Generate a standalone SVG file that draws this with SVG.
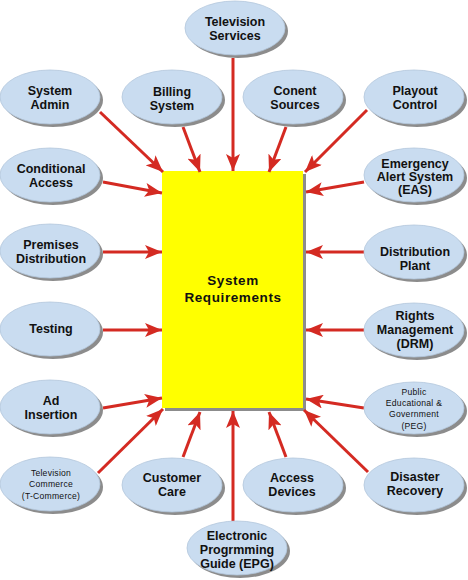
<svg xmlns="http://www.w3.org/2000/svg" width="468" height="580" viewBox="0 0 468 580">
<style>
.sh{fill:#8c8c8c}
.el{fill:#c9dcf0;stroke:#b3c7dc;stroke-width:0.8}
.t{font-family:"Liberation Sans",Arial,sans-serif;font-weight:bold;font-size:12.5px;fill:#111;text-anchor:middle}
.big{font-size:13.5px;letter-spacing:0.6px}
.s{font-family:"Liberation Sans",Arial,sans-serif;font-size:8.6px;fill:#111;text-anchor:middle;letter-spacing:0.25px}
.c line{stroke:#d42a22;stroke-width:3;marker-end:url(#ah)}
</style>
<defs>
<marker id="ah" markerUnits="userSpaceOnUse" markerWidth="18" markerHeight="14" refX="17" refY="7" orient="auto">
<path d="M0,0 L17,7 L0,14 L4,7 z" fill="#d42a22"/>
</marker>
</defs>
<rect width="468" height="580" fill="#fff"/>
<g id="center">
<rect x="165" y="174" width="141" height="237" class="sh"/>
<rect x="162" y="171" width="141" height="237" fill="#ffff00"/>
<text class="t big" x="233" y="285">System</text>
<text class="t big" x="233" y="302">Requirements</text>
</g>
<g class="c" id="connectors">
<line x1="233" y1="58" x2="233" y2="171"/>
<line x1="100" y1="112" x2="163" y2="172"/>
<line x1="183" y1="127" x2="200" y2="172"/>
<line x1="286" y1="127" x2="269" y2="172"/>
<line x1="367" y1="110" x2="305" y2="172"/>
<line x1="103" y1="182" x2="162" y2="193"/>
<line x1="364" y1="182" x2="306" y2="192"/>
<line x1="103" y1="252" x2="162" y2="252"/>
<line x1="364" y1="252" x2="306" y2="252"/>
<line x1="103" y1="330" x2="162" y2="330"/>
<line x1="364" y1="330" x2="306" y2="330"/>
<line x1="103" y1="408" x2="162" y2="398"/>
<line x1="364" y1="408" x2="306" y2="399"/>
<line x1="98" y1="473" x2="163" y2="409"/>
<line x1="183" y1="457" x2="200" y2="412"/>
<line x1="233" y1="521" x2="233" y2="411"/>
<line x1="286" y1="457" x2="269" y2="412"/>
<line x1="368" y1="472" x2="304" y2="410"/>
</g>
<g id="tv"><ellipse class="sh" cx="238" cy="31" rx="50" ry="27"/><ellipse class="el" cx="235" cy="28" rx="50" ry="27"/><text class="t" x="235" y="26">Television</text><text class="t" x="235" y="40">Services</text></g>
<g id="admin"><ellipse class="sh" cx="53" cy="100" rx="50" ry="27"/><ellipse class="el" cx="50" cy="97" rx="50" ry="27"/><text class="t" x="50" y="95">System</text><text class="t" x="50" y="109">Admin</text></g>
<g id="billing"><ellipse class="sh" cx="175" cy="100" rx="50" ry="27"/><ellipse class="el" cx="172" cy="97" rx="50" ry="27"/><text class="t" x="172" y="96">Billing</text><text class="t" x="172" y="110">System</text></g>
<g id="content"><ellipse class="sh" cx="296" cy="100" rx="50" ry="27"/><ellipse class="el" cx="293" cy="97" rx="50" ry="27"/><text class="t" x="295" y="95">Conent</text><text class="t" x="295" y="109">Sources</text></g>
<g id="playout"><ellipse class="sh" cx="417" cy="100" rx="50" ry="27"/><ellipse class="el" cx="414" cy="97" rx="50" ry="27"/><text class="t" x="415" y="95">Playout</text><text class="t" x="415" y="109">Control</text></g>
<g id="ca"><ellipse class="sh" cx="53" cy="178" rx="50" ry="27"/><ellipse class="el" cx="50" cy="175" rx="50" ry="27"/><text class="t" x="51" y="173">Conditional</text><text class="t" x="51" y="187">Access</text></g>
<g id="eas"><ellipse class="sh" cx="417" cy="178" rx="50" ry="27"/><ellipse class="el" cx="414" cy="175" rx="50" ry="27"/><text class="t" x="415" y="168">Emergency</text><text class="t" x="415" y="181">Alert System</text><text class="t" x="415" y="194">(EAS)</text></g>
<g id="premises"><ellipse class="sh" cx="53" cy="254" rx="50" ry="27"/><ellipse class="el" cx="50" cy="251" rx="50" ry="27"/><text class="t" x="51" y="249">Premises</text><text class="t" x="51" y="263">Distribution</text></g>
<g id="plant"><ellipse class="sh" cx="417" cy="255" rx="50" ry="27"/><ellipse class="el" cx="414" cy="252" rx="50" ry="27"/><text class="t" x="415" y="256">Distribution</text><text class="t" x="415" y="270">Plant</text></g>
<g id="testing"><ellipse class="sh" cx="53" cy="332" rx="50" ry="27"/><ellipse class="el" cx="50" cy="329" rx="50" ry="27"/><text class="t" x="51" y="333">Testing</text></g>
<g id="drm"><ellipse class="sh" cx="417" cy="333" rx="50" ry="27"/><ellipse class="el" cx="414" cy="330" rx="50" ry="27"/><text class="t" x="415" y="320">Rights</text><text class="t" x="415" y="334">Management</text><text class="t" x="415" y="348">(DRM)</text></g>
<g id="ad"><ellipse class="sh" cx="53" cy="410" rx="50" ry="27"/><ellipse class="el" cx="50" cy="407" rx="50" ry="27"/><text class="t" x="51" y="405">Ad</text><text class="t" x="51" y="419">Insertion</text></g>
<g id="peg"><ellipse class="sh" cx="417" cy="411" rx="50" ry="26"/><ellipse class="el" cx="414" cy="408" rx="50" ry="26"/><text class="s" x="414" y="395">Public</text><text class="s" x="414" y="406">Educational &amp;</text><text class="s" x="414" y="417">Government</text><text class="s" x="414" y="429">(PEG)</text></g>
<g id="tcommerce"><ellipse class="sh" cx="53" cy="487" rx="50" ry="27"/><ellipse class="el" cx="50" cy="484" rx="50" ry="27"/><text class="s" x="51" y="476">Television</text><text class="s" x="51" y="487">Commerce</text><text class="s" x="51" y="499">(T-Commerce)</text></g>
<g id="care"><ellipse class="sh" cx="175" cy="488" rx="50" ry="27"/><ellipse class="el" cx="172" cy="485" rx="50" ry="27"/><text class="t" x="172" y="482">Customer</text><text class="t" x="172" y="496">Care</text></g>
<g id="access"><ellipse class="sh" cx="296" cy="488" rx="50" ry="27"/><ellipse class="el" cx="293" cy="485" rx="50" ry="27"/><text class="t" x="292" y="482">Access</text><text class="t" x="292" y="496">Devices</text></g>
<g id="disaster"><ellipse class="sh" cx="417" cy="488" rx="50" ry="27"/><ellipse class="el" cx="414" cy="485" rx="50" ry="27"/><text class="t" x="415" y="481">Disaster</text><text class="t" x="415" y="495">Recovery</text></g>
<g id="epg"><ellipse class="sh" cx="240" cy="551" rx="50" ry="27"/><ellipse class="el" cx="237" cy="548" rx="50" ry="27"/><text class="t" x="237" y="540">Electronic</text><text class="t" x="237" y="554">Progrmming</text><text class="t" x="237" y="568">Guide (EPG)</text></g>
</svg>
